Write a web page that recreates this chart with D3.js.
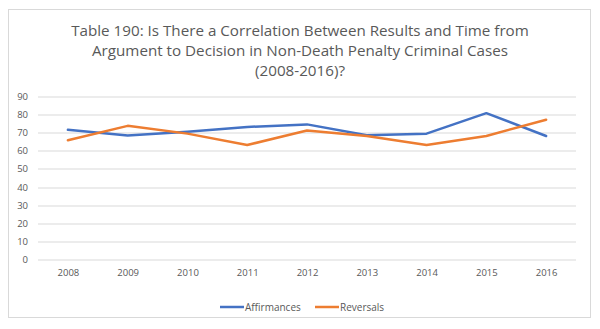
<!DOCTYPE html>
<html>
<head>
<meta charset="utf-8">
<script src="https://cdn.jsdelivr.net/npm/d3@7"></script>
<style>
  body { margin: 0; background: #fff; }
  text { font-family: "Open Sans", "Liberation Sans", sans-serif; }
</style>
</head>
<body>
<div id="chart"></div>
<script>
// data
var years = ["2008", "2009", "2010", "2011", "2012", "2013", "2014", "2015", "2016"];
var affirmances = [71.6, 68.5, 70.5, 73.2, 74.6, 68.6, 69.5, 80.8, 68.2];
var reversals = [65.8, 73.8, 69.5, 63.2, 71.2, 68.2, 63.2, 68.2, 77.2];
var yTicks = [0, 10, 20, 30, 40, 50, 60, 70, 80, 90];
var titleLines = [
  "Table 190: Is There a Correlation Between Results and Time from",
  "Argument to Decision in Non-Death Penalty Criminal Cases",
  "(2008-2016)?"
];

var svgWidth = 600;
var svgHeight = 329;

var margin = { top: 96.5, right: 24, bottom: 69.5, left: 38 };
var width = svgWidth - margin.left - margin.right;
var height = svgHeight - margin.top - margin.bottom;

var svg = d3.select("#chart")
  .append("svg")
  .attr("width", svgWidth)
  .attr("height", svgHeight);

// chart area border
svg.append("rect")
  .attr("x", 8.5)
  .attr("y", 9.5)
  .attr("width", 582)
  .attr("height", 308)
  .attr("fill", "#fff")
  .attr("stroke", "#d9d9d9")
  .attr("stroke-width", 1);

// title
var title = svg.append("text")
  .attr("text-anchor", "middle")
  .attr("fill", "#595959")
  .style("font-size", "15.5px");

title.selectAll("tspan")
  .data(titleLines)
  .enter()
  .append("tspan")
  .attr("x", 300)
  .attr("y", (d, i) => 36 + i * 19.8)
  .text(d => d);

// squeeze title to Calibri-like width
var firstLine = title.select("tspan").node();
var targetW = 458;
var w = firstLine.getComputedTextLength();
if (w > 0) {
  title.style("font-size", (15.5 * targetW / w) + "px");
}

var chartGroup = svg.append("g")
  .attr("transform", `translate(${margin.left}, ${margin.top})`);

var xScale = d3.scalePoint()
  .domain(years)
  .range([0, width])
  .padding(0.5);

var yScale = d3.scaleLinear()
  .domain([0, 90])
  .range([height, 0]);

// gridlines
chartGroup.append("g")
  .selectAll("line")
  .data(yTicks)
  .enter()
  .append("line")
  .attr("x1", 0)
  .attr("x2", width)
  .attr("y1", d => Math.round(yScale(d)) + 0.5)
  .attr("y2", d => Math.round(yScale(d)) + 0.5)
  .attr("stroke", "#d9d9d9")
  .attr("stroke-width", 1);

// y axis labels
var leftAxis = d3.axisLeft(yScale).tickValues(yTicks).tickSize(0).tickPadding(10);
var yAxis = chartGroup.append("g").call(leftAxis);
yAxis.select(".domain").remove();
yAxis.selectAll("text")
  .attr("fill", "#595959")
  .style("font-size", "9.5px");

// x axis labels
var bottomAxis = d3.axisBottom(xScale).tickSize(0).tickPadding(10);
var xAxis = chartGroup.append("g")
  .attr("transform", `translate(0, ${height})`)
  .call(bottomAxis);
xAxis.select(".domain").remove();
xAxis.selectAll("text")
  .attr("fill", "#595959")
  .style("font-size", "9.5px");

// lines
var lineGen = d3.line()
  .x((d, i) => xScale(years[i]))
  .y(d => yScale(d));

var series = [
  { name: "Affirmances", values: affirmances, color: "#4472C4" },
  { name: "Reversals", values: reversals, color: "#ED7D31" }
];

chartGroup.selectAll(".series")
  .data(series)
  .enter()
  .append("path")
  .attr("class", "series")
  .attr("d", d => lineGen(d.values))
  .attr("fill", "none")
  .attr("stroke", d => d.color)
  .attr("stroke-width", 2.5)
  .attr("stroke-linejoin", "round")
  .attr("stroke-linecap", "round");

// legend
var legendX = [220, 315];
var legend = svg.append("g");
series.forEach(function(s, i) {
  legend.append("line")
    .attr("x1", legendX[i])
    .attr("x2", legendX[i] + 24)
    .attr("y1", 307)
    .attr("y2", 307)
    .attr("stroke", s.color)
    .attr("stroke-width", 2.5);
  legend.append("text")
    .attr("x", legendX[i] + 25)
    .attr("y", 310.5)
    .attr("fill", "#595959")
    .style("font-size", "10px")
    .text(s.name);
});
</script>
</body>
</html>
